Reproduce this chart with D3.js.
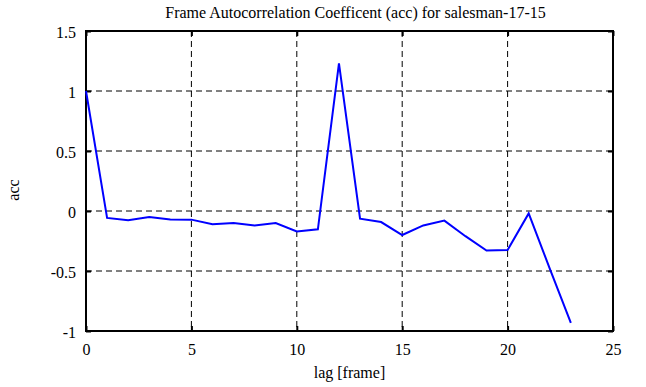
<!DOCTYPE html>
<html><head><meta charset="utf-8">
<script src="https://cdn.jsdelivr.net/npm/d3@7"></script>
<style>body{margin:0;background:#fff}svg{display:block}</style>
</head><body>
<script>
const lags = [0,1,2,3,4,5,6,7,8,9,10,11,12,13,14,15,16,17,18,19,20,21,22,23];
const acc = [1.0,-0.058,-0.078,-0.05,-0.07,-0.072,-0.11,-0.1,-0.12,-0.1,-0.17,-0.153,1.23,-0.064,-0.092,-0.2,-0.12,-0.08,-0.21,-0.33,-0.325,-0.02,-0.48,-0.933];
const xTicks = [0,5,10,15,20,25];
const yTicks = [-1,-0.5,0,0.5,1,1.5];
const title = "Frame Autocorrelation Coefficent (acc) for salesman-17-15";
const xLabel = "lag [frame]";
const yLabel = "acc";

const FONT = "'Liberation Serif'";
const W=646,H=387;
const L=86,R=613,T=31,B=331;
const svg=d3.select("body").append("svg").attr("width",W).attr("height",H)
 .style("font-family",FONT);
const x=d3.scaleLinear().domain([0,25]).range([L,R]);
const y=d3.scaleLinear().domain([-1,1.5]).range([B,T]);

const g=svg.append("g");
g.selectAll(".gx").data(xTicks.slice(1,-1)).enter().append("line")
 .attr("x1",d=>x(d)).attr("x2",d=>x(d)).attr("y1",T).attr("y2",B)
 .attr("stroke","#000").attr("stroke-width",1).attr("stroke-dasharray","6,4");
g.selectAll(".gy").data(yTicks.slice(1,-1)).enter().append("line")
 .attr("y1",d=>y(d)).attr("y2",d=>y(d)).attr("x1",L).attr("x2",R)
 .attr("stroke","#000").attr("stroke-width",1).attr("stroke-dasharray","6,4");

const fmt=d=>String(d);
const styleText=a=>a.selectAll("text").style("font-family",FONT).style("font-size","16px").attr("fill","#000");
const bx=svg.append("g").attr("transform",`translate(0,${B})`)
 .call(d3.axisBottom(x).tickValues(xTicks).tickSize(-5).tickPadding(13).tickFormat(fmt));
bx.attr("font-family",null);
bx.select(".domain").remove();bx.selectAll("line").attr("stroke-width",2);styleText(bx);
const tx=svg.append("g").attr("transform",`translate(0,${T})`)
 .call(d3.axisTop(x).tickValues(xTicks).tickSize(-5).tickFormat(""));
tx.select(".domain").remove();tx.selectAll("line").attr("stroke-width",2);
const ly=svg.append("g").attr("transform",`translate(${L},0)`)
 .call(d3.axisLeft(y).tickValues(yTicks).tickSize(-5).tickPadding(10).tickFormat(fmt));
ly.attr("font-family",null);
ly.select(".domain").remove();ly.selectAll("line").attr("stroke-width",2);styleText(ly);ly.selectAll("text").attr("dy","0.4em");
const ry=svg.append("g").attr("transform",`translate(${R},0)`)
 .call(d3.axisRight(y).tickValues(yTicks).tickSize(-5).tickFormat(""));
ry.select(".domain").remove();ry.selectAll("line").attr("stroke-width",2);

svg.append("rect").attr("x",L).attr("y",T).attr("width",R-L).attr("height",B-T)
 .attr("fill","none").attr("stroke","#000").attr("stroke-width",2);

svg.append("path").datum(lags.map((l,i)=>[l,acc[i]]))
 .attr("d",d3.line().x(d=>x(d[0])).y(d=>y(d[1])))
 .attr("fill","none").attr("stroke","#0000ff").attr("stroke-width",2).attr("stroke-linejoin","miter");

svg.append("text").attr("x",(L+R)/2+6).attr("y",18).attr("text-anchor","middle").style("font-size","16px").text(title);
svg.append("text").attr("x",(L+R)/2).attr("y",378).attr("text-anchor","middle").style("font-size","16px").text(xLabel);
svg.append("text").attr("transform",`translate(19,190) rotate(-90)`).attr("text-anchor","middle").style("font-size","16px").text(yLabel);
</script>
</body></html>
